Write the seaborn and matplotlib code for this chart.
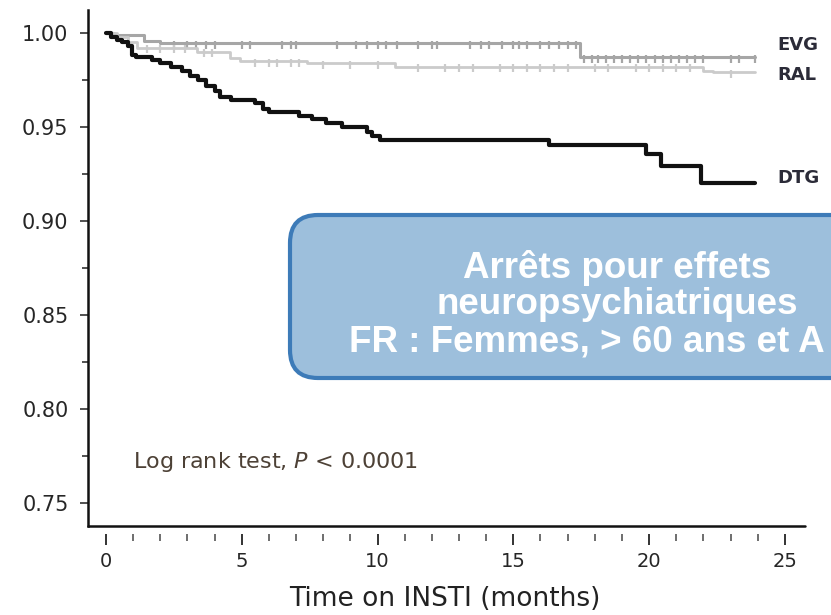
import numpy as np
import pandas as pd
import matplotlib
matplotlib.use("Agg")
import matplotlib.pyplot as plt
from matplotlib.patches import FancyBboxPatch
from matplotlib.transforms import IdentityTransform
from matplotlib.ticker import MultipleLocator
import seaborn as sns

# Kaplan-Meier step curves: time (months) of each step and survival after it
dtg_time = [0, 0.2, 0.4, 0.6, 0.8, 0.95, 1.1, 1.7, 2.0, 2.4, 2.8, 3.1, 3.4, 3.7,
            4.0, 4.2, 4.6, 5.5, 5.8, 6.0, 7.1, 7.6, 8.1, 8.7, 9.6, 9.8, 10.1,
            16.3, 19.9, 20.45, 21.9, 23.9]
dtg_surv = [1.000, 0.998, 0.9965, 0.995, 0.993, 0.9885, 0.987, 0.9855, 0.984,
            0.982, 0.980, 0.977, 0.975, 0.972, 0.969, 0.966, 0.9645, 0.9625,
            0.9595, 0.958, 0.956, 0.954, 0.952, 0.950, 0.9475, 0.945, 0.943,
            0.9405, 0.9355, 0.929, 0.920, 0.920]

evg_time = [0, 0.3, 1.4, 2.0, 17.45, 23.9]
evg_surv = [1.000, 0.999, 0.9955, 0.9945, 0.987, 0.987]

ral_time = [0, 0.4, 0.8, 1.13, 3.34, 4.57, 4.93, 7.39, 10.64, 22.0, 22.35, 23.9]
ral_surv = [1.000, 0.998, 0.995, 0.992, 0.990, 0.9865, 0.985, 0.984, 0.982,
            0.980, 0.979, 0.979]

# censoring times
evg_cens = [2.5, 3.0, 3.3, 3.7, 4.0, 5.0, 5.3, 6.5, 6.8, 7.0, 8.5, 9.2, 9.6,
            10.0, 10.3, 10.7, 11.5, 12.0, 12.2, 13.4, 13.8, 14.1, 14.6, 15.0,
            15.2, 15.5, 16.0, 16.3, 16.7, 17.0, 17.3, 17.6, 17.9, 18.1, 18.4,
            18.7, 19.0, 19.3, 19.6, 19.9, 20.2, 20.5, 20.8, 21.1, 21.4, 21.7,
            22.0, 23.0, 23.3, 23.9]
ral_cens = [1.5, 2.0, 2.5, 2.9, 3.6, 3.9, 5.5, 6.0, 6.3, 6.8, 7.1, 8.0, 9.0,
            10.0, 11.5, 12.5, 13.0, 13.5, 14.5, 15.0, 15.5, 16.0, 16.5, 17.0,
            18.0, 18.5, 19.5, 20.0, 20.5, 21.0, 21.5, 23.0]

groups = ["EVG", "RAL", "DTG"]
colors = {"EVG": "#a6a6a6", "RAL": "#cbcbcb", "DTG": "#111111"}
widths = {"EVG": 2.2, "RAL": 2.0, "DTG": 3.0}
label_y = {"EVG": 0.9936, "RAL": 0.9777, "DTG": 0.9229}

x_ticks = [0, 5, 10, 15, 20, 25]
y_ticks = [0.75, 0.80, 0.85, 0.90, 0.95, 1.00]
y_ticklabels = ["0.75", "0.80", "0.85", "0.90", "0.95", "1.00"]

curves = {"EVG": (evg_time, evg_surv), "RAL": (ral_time, ral_surv),
          "DTG": (dtg_time, dtg_surv)}
censors = {"EVG": evg_cens, "RAL": ral_cens}

sns.set_style("white")
plt.rcParams["font.family"] = ["DejaVu Sans"]

fig = plt.figure(figsize=(8.31, 6.15), dpi=100)
ax = fig.add_axes([88 / 831, 1 - 526 / 615, (805 - 88) / 831, (526 - 10) / 615])

# axis frame: left spine plus a baseline, with x ticks hanging just below it
for side in ["top", "right"]:
    ax.spines[side].set_visible(False)
ax.spines["left"].set_linewidth(1.8)
ax.spines["left"].set_color("#111111")
ax.spines["bottom"].set_position(("outward", 6))
ax.spines["bottom"].set_color("none")

for g in groups:
    t, s = curves[g]
    df = pd.DataFrame({"time": t, "surv": s})
    sns.lineplot(data=df, x="time", y="surv", ax=ax, color=colors[g],
                 lw=widths[g], drawstyle="steps-post", estimator=None,
                 sort=False, zorder=3 if g == "DTG" else 2)
    if g in censors:
        ct = np.array(censors[g])
        idx = np.searchsorted(np.array(t), ct, side="right") - 1
        cs = np.array(s)[idx]
        cdf = pd.DataFrame({"time": ct, "surv": cs - 0.0008})
        sns.scatterplot(data=cdf, x="time", y="surv", ax=ax, marker="|",
                        s=30, linewidth=1.6, color=colors[g], zorder=2)
    ax.text(24.74, label_y[g], g, fontsize=13, fontweight="bold",
            color="#2b2b38", va="center", ha="left", clip_on=False)

ax.text(1.0, 0.7718, "Log rank test, $\\it{P}$ < 0.0001", fontsize=16,
        color="#4d4136", va="center", ha="left")

ax.set_xlim(-0.66, 25.74)
ax.set_ylim(0.7378, 1.0122)
ax.axhline(0.7378, color="#111111", lw=1.8, clip_on=False, zorder=4)

ax.xaxis.set_minor_locator(MultipleLocator(1))
ax.yaxis.set_minor_locator(MultipleLocator(0.025))
ax.set_yticks(y_ticks)
ax.set_yticklabels(y_ticklabels, fontsize=15, color="#262626")
ax.set_xticks(x_ticks)
ax.set_xticklabels([str(v) for v in x_ticks], fontsize=14, color="#262626")

ax.tick_params(axis="y", which="major", direction="out", length=6, width=1.2,
               color="#333333", pad=8, left=True)
ax.tick_params(axis="y", which="minor", direction="out", length=4, width=1.2,
               color="#333333", left=True)
ax.tick_params(axis="x", which="major", direction="out", length=8, width=1.4,
               color="#333333", pad=5, bottom=True)
ax.tick_params(axis="x", which="minor", direction="out", length=5, width=1.2,
               color="#555555", bottom=True)

ax.set_ylabel("")
ax.set_xlabel("Time on INSTI (months)", fontsize=19, color="#222222")
ax.xaxis.set_label_coords(0.498, -0.116)

# callout box
box = FancyBboxPatch((290, 615 - 378), 655, 163,
                     boxstyle="round,pad=0,rounding_size=28",
                     transform=IdentityTransform(), facecolor="#9dbfdc",
                     edgecolor="#3d7bb8", linewidth=3, zorder=10)
fig.add_artist(box)
box_font = dict(family=["Liberation Sans", "DejaVu Sans"], fontweight="bold",
                fontsize=26.5, color="white", va="center", zorder=11,
                transform=IdentityTransform())
fig.text(617, 615 - 268, "Arrêts pour effets", ha="center", **box_font)
fig.text(617, 615 - 305, "neuropsychiatriques", ha="center", **box_font)
fig.text(349, 615 - 342, "FR : Femmes, > 60 ans et A", ha="left", **box_font)

fig.savefig("out.png", dpi=100)
